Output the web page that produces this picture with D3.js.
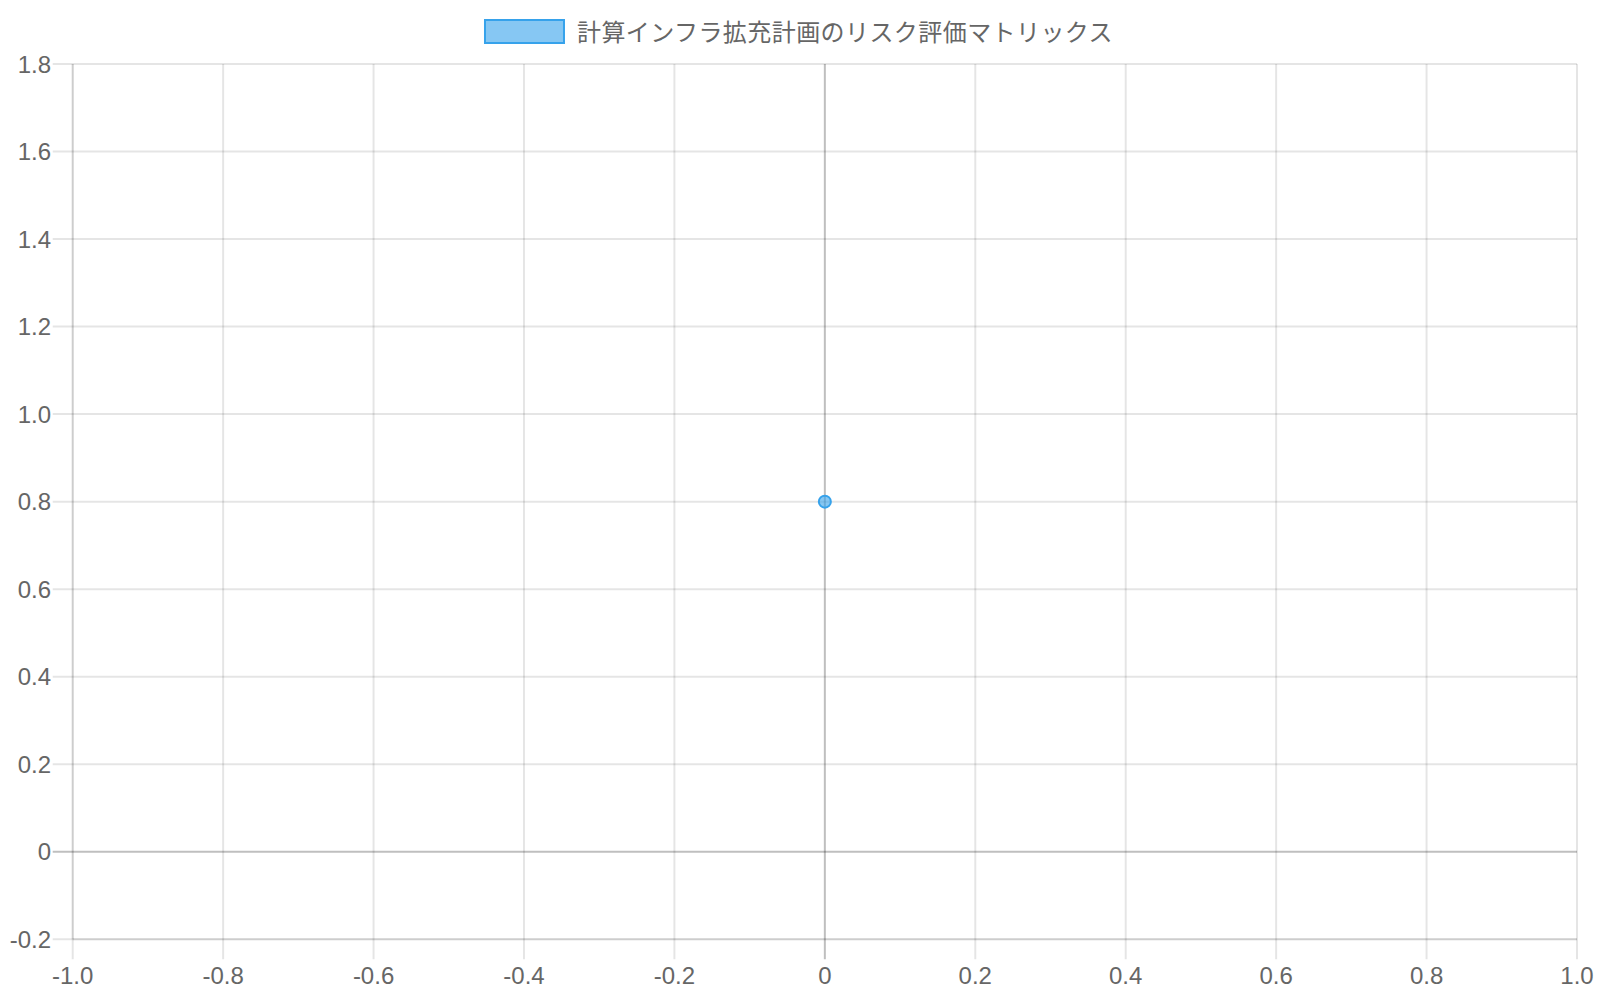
<!DOCTYPE html>
<html><head><meta charset="utf-8">
<script src="https://cdn.jsdelivr.net/npm/d3@7"></script>
<style>html,body{margin:0;padding:0;background:#fff;}svg{display:block;}</style>
</head><body>
<svg id="c" width="1600" height="1000"></svg>
<script>
const seriesName = "計算インフラ拡充計画のリスク評価マトリックス";
const pointsX = [0];
const pointsY = [0.8];
const xTicks = [-1.0,-0.8,-0.6,-0.4,-0.2,0,0.2,0.4,0.6,0.8,1.0];
const yTicks = [-0.2,0,0.2,0.4,0.6,0.8,1.0,1.2,1.4,1.6,1.8];
const xDomain = [-1, 1];
const yDomain = [-0.2, 1.8];

const svg = d3.select("#c");
const font = "'Liberation Sans','Noto Sans CJK JP',Arial,sans-serif";
const L = 72.7, R = 1577, T = 64, B = 939.3, TICK = 20;
const x = d3.scaleLinear().domain(xDomain).range([L, R]);
const y = d3.scaleLinear().domain(yDomain).range([B, T]);
const fmt = v => v === 0 ? "0" : d3.format(".1f")(v).replace("\u2212", "-");

const grid = svg.append("g");
yTicks.forEach(t => {
  const zero = t === 0;
  grid.append("line").attr("x1", L - TICK).attr("x2", R)
    .attr("y1", y(t)).attr("y2", y(t))
    .attr("stroke", zero ? "rgba(0,0,0,0.25)" : "rgba(0,0,0,0.1)").attr("stroke-width", 2);
});
xTicks.forEach(t => {
  const zero = t === 0;
  grid.append("line").attr("y1", T).attr("y2", B + TICK)
    .attr("x1", x(t)).attr("x2", x(t))
    .attr("stroke", zero ? "rgba(0,0,0,0.25)" : "rgba(0,0,0,0.1)").attr("stroke-width", 2);
});
grid.append("line").attr("x1", L).attr("x2", L).attr("y1", T).attr("y2", B)
  .attr("stroke", "rgba(0,0,0,0.1)").attr("stroke-width", 2);
grid.append("line").attr("x1", L).attr("x2", R).attr("y1", B).attr("y2", B)
  .attr("stroke", "rgba(0,0,0,0.1)").attr("stroke-width", 2);

const lab = svg.append("g").attr("font-family", font).attr("font-size", 24).attr("fill", "#666");
yTicks.forEach(t => {
  lab.append("text").attr("x", 51).attr("y", y(t) + 8.5).attr("text-anchor", "end").text(fmt(t));
});
xTicks.forEach(t => {
  lab.append("text").attr("x", x(t)).attr("y", 983.5).attr("text-anchor", "middle").text(fmt(t));
});

svg.append("g").selectAll("circle").data(pointsX.map((v, i) => [v, pointsY[i]])).join("circle")
  .attr("cx", d => x(d[0])).attr("cy", d => y(d[1])).attr("r", 6)
  .attr("fill", "rgba(54,162,235,0.6)").attr("stroke", "rgb(54,162,235)").attr("stroke-width", 2);

const lg = svg.append("g");
const lt = lg.append("text").attr("font-family", font).attr("font-size", 24).attr("fill", "#666")
  .attr("letter-spacing", 0.43).attr("x", 0).attr("y", 41).text(seriesName);
const tw = lt.node().getComputedTextLength();
const boxW = 81, textOff = 93;
const total = textOff + tw;
const x0 = 798.5 - total / 2;
lg.insert("rect", "text").attr("x", x0 + 1).attr("y", 20).attr("width", boxW - 2).attr("height", 23)
  .attr("fill", "rgba(54,162,235,0.6)").attr("stroke", "rgb(54,162,235)").attr("stroke-width", 2);
lt.attr("x", x0 + textOff);
</script>
</body></html>
